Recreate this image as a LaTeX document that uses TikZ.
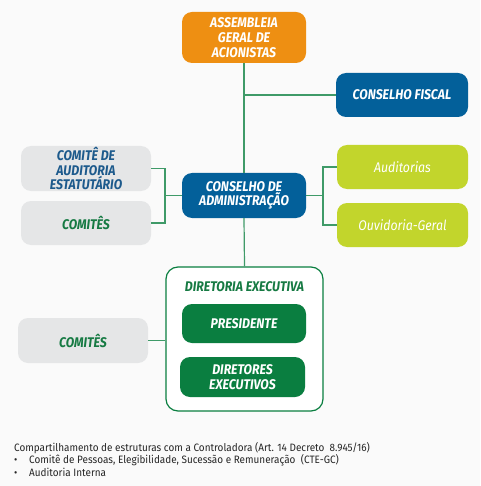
\documentclass[tikz,border=0pt]{standalone}
\usepackage{fontspec}
\setmainfont{Fira Sans}
\newfontfamily\boxfont[FakeStretch=0.88]{Fira Sans}
\newfontfamily\notefont[FakeStretch=0.93]{Fira Sans}
\usetikzlibrary{positioning}
\definecolor{bg}{HTML}{FAFAFA}
\definecolor{orangeC}{HTML}{EE8F12}
\definecolor{blueC}{HTML}{03609A}
\definecolor{limeC}{HTML}{C2D52C}
\definecolor{greyC}{HTML}{E5E6E7}
\definecolor{greenC}{HTML}{0A7E40}
\definecolor{lineC}{HTML}{3F9A68}
\definecolor{navyT}{HTML}{1D5A8C}
\definecolor{greenT}{HTML}{167A43}
\tikzset{
  x=1pt,y=-1pt,
  box/.style={rounded corners=10pt, align=center, inner sep=0pt,
    font=\boxfont\bfseries\itshape\fontsize{14}{14.7}\selectfont, text=white},
  orgbox/.style={box, fill=orangeC},
  bluebox/.style={box, fill=blueC},
  limebox/.style={box, fill=limeC, font=\boxfont\itshape\fontsize{14}{14.7}\selectfont},
  greybox/.style={box, fill=greyC},
  greenbox/.style={box, fill=greenC},
  conn/.style={draw=lineC, line width=1.2pt},
}
\begin{document}
\begin{tikzpicture}
\fill[bg] (0,0) rectangle (480,486);
\useasboundingbox (0,0) rectangle (480,486);

\node[orgbox, minimum width=124pt, minimum height=51pt] (ag) at (244,37.5) {ASSEMBLEIA\\GERAL DE\\ACIONISTAS};
\node[bluebox, minimum width=132pt, minimum height=44pt] (cf) at (402,95) {CONSELHO FISCAL};
\node[bluebox, minimum width=124pt, minimum height=45pt] (ca) at (244,195.5) {CONSELHO DE\\ADMINISTRAÇÃO};
\node[greybox, text=navyT, minimum width=130pt, minimum height=45pt] (cae) at (86,168.5) {COMITÊ DE\\AUDITORIA\\ESTATUTÁRIO};
\node[greybox, text=greenT, minimum width=130pt, minimum height=44pt] (com1) at (86,223) {COMITÊS};
\node[limebox, minimum width=131pt, minimum height=44pt] (aud) at (402.5,167) {Auditorias};
\node[limebox, minimum width=131pt, minimum height=44pt] (ouv) at (402.5,225) {Ouvidoria-Geral};

\node[draw=greenC, line width=1.2pt, fill=white, rounded corners=12pt, minimum width=157pt, minimum height=144pt, inner sep=0pt] (dbox) at (244.5,339) {};
\node[font=\boxfont\bfseries\itshape\fontsize{14}{14.7}\selectfont, text=greenT, inner sep=0pt] (dtitle) at (244.5,287) {DIRETORIA EXECUTIVA};
\node[greenbox, minimum width=124pt, minimum height=39pt] (pres) at (244,323.5) {PRESIDENTE};
\node[greenbox, minimum width=125pt, minimum height=40pt] (dirx) at (242.5,377) {DIRETORES\\EXECUTIVOS};
\node[greybox, text=greenT, minimum width=130pt, minimum height=45pt] (com2) at (83,340.5) {COMITÊS};

\coordinate (j1) at (244,95);
\coordinate (lj) at (165,195.5);
\coordinate (rj) at (323,195.5);

\draw[conn] (ag.south) -- (ca.north);
\draw[conn] (j1) -- (cf.west);
\draw[conn] (ca.south) -- (dbox.north);
\draw[conn] (cae.east) -| (lj) |- (com1.east);
\draw[conn] (lj) -- (ca.west);
\draw[conn] (aud.west) -| (rj) |- (ouv.west);
\draw[conn] (ca.east) -- (rj);
\draw[conn] (com2.east) -- (dbox.west |- com2.east);

\node[anchor=north west, align=left, inner sep=0pt, font=\notefont\fontsize{10.7}{12.6}\selectfont, text=black!85] (note) at (14,442)
{Compartilhamento de estruturas com a Controladora (Art. 14 Decreto\ \ 8.945/16)\\
\makebox[15pt][l]{•}Comitê de Pessoas, Elegibilidade, Sucessão e Remuneração\ \ (CTE-GC)\\
\makebox[15pt][l]{•}Auditoria Interna};
\end{tikzpicture}
\end{document}
